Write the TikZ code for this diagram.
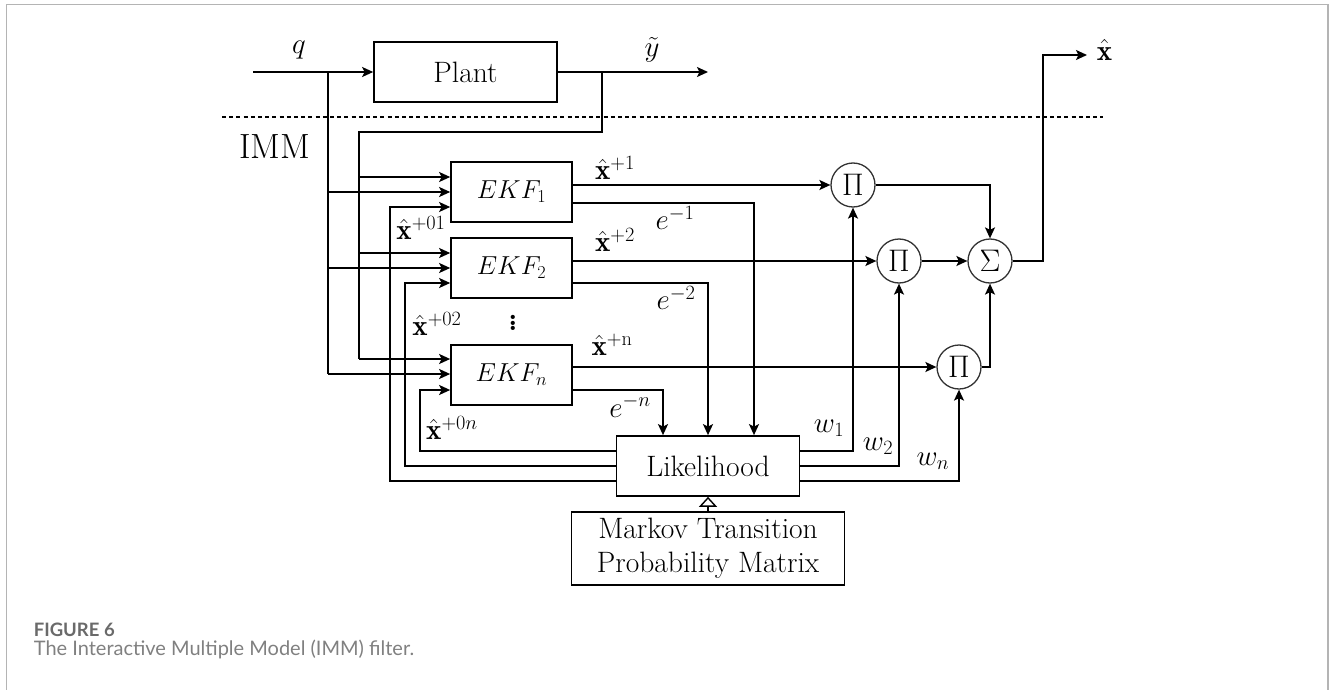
\RequirePackage{fix-cm}
\documentclass[tikz,border=0pt]{standalone}
\usepackage{fontspec}
\usetikzlibrary{arrows.meta,calc}
\newfontfamily\capfont{Lato}
\definecolor{capgray}{HTML}{6A6A6A}
\definecolor{capgray2}{HTML}{808080}
\definecolor{framegray}{HTML}{B4B4B4}
\newcommand{\bigop}[1]{\scalebox{1.3}{$#1$}}
\begin{document}
\begin{tikzpicture}[x=1pt,y=-1pt,
  line width=1.7pt,
  arr/.style={-{Stealth[length=11pt,width=10pt,inset=2.5pt]}},
  blk/.style={draw,line width=1.7pt,inner sep=0pt,font=\fontsize{29.5}{32}\selectfont},
  ekf/.style={blk,minimum width=121,minimum height=60,font=\fontsize{26}{30}\selectfont},
  opc/.style={draw,circle,line width=1.3pt,draw=black!80,minimum size=44,inner sep=0pt,font=\fontsize{24}{28}\selectfont},
  lab/.style={inner sep=0pt,font=\fontsize{29}{32}\selectfont},
  hollowarr/.style={-{Triangle[open,length=10pt,width=18pt]}}
]
\useasboundingbox (0,0) rectangle (1330,690);
\draw[framegray,line width=1.5pt] (6.5,690) -- (6.5,4.5) -- (1328,4.5) -- (1328,690);

% blocks
\node[blk,minimum width=183,minimum height=60] (plant) at (465.5,72) {Plant};
\node[ekf] (ekf1) at (511.5,192) {$EKF_1$};
\node[ekf] (ekf2) at (511.5,268) {$EKF_2$};
\node[ekf] (ekfn) at (511.5,375) {$EKF_n$};
\node[blk,minimum width=183,minimum height=60] (lik) at (708,466) {Likelihood};
\node[blk,minimum width=273,minimum height=73,align=center,font=\fontsize{29.5}{34}\selectfont] (markov) at (708,548.5) {Markov Transition\\Probability Matrix};
\node[opc] (p1) at (853,185) {\bigop{\Pi}};
\node[opc] (p2) at (899,261) {\bigop{\Pi}};
\node[opc] (sig) at (990,261) {\bigop{\Sigma}};
\node[opc] (p3) at (959,367) {\bigop{\Pi}};

% coordinates
\coordinate (qin) at (253,72);
\coordinate (yout) at (708,72);
\coordinate (xout) at (1087,55);

% dashed separator
\draw[line width=1.1pt,dash pattern=on 4pt off 3.2pt] (222,117) -- (1103,117);
\node[inner sep=0pt,font=\fontsize{35}{38}\selectfont] (imm) at (275,147) {IMM};

% plant in/out
\draw[arr] (qin) -- (plant.west);
\draw[arr] (plant.east) -- (yout);

% q distribution
\draw (328,72) -- (328,374);
\draw[arr] (328,192) -- (ekf1.west);
\draw[arr] (328,268) -- (ekf2.west);
\draw[arr] (328,374) -- ($(ekfn.west)+(0,-1)$);

% measurement distribution
\draw (602,72) -- (602,132) -- (359,132) -- (359,359);
\draw[arr] (359,177) -- ($(ekf1.west)+(0,-15)$);
\draw[arr] (359,253) -- ($(ekf2.west)+(0,-15)$);
\draw[arr] (359,359) -- ($(ekfn.west)+(0,-16)$);

% feedback from likelihood
\draw[arr] ($(lik.west)+(0,-15)$) -- (420,451) -- (420,390) -- ($(ekfn.west)+(0,15)$);
\draw[arr] (lik.west) -- (405,466) -- (405,283) -- ($(ekf2.west)+(0,15)$);
\draw[arr] ($(lik.west)+(0,15)$) -- (390,481) -- (390,207) -- ($(ekf1.west)+(0,15)$);

% EKF outputs
\draw[arr] ($(ekf1.east)+(0,-7)$) -- (p1.west);
\draw[arr] ($(ekf2.east)+(0,-7)$) -- (p2.west);
\draw[arr] ($(ekfn.east)+(0,-8)$) -- (p3.west);
\draw[arr] ($(ekf1.east)+(0,11)$) -| ($(lik.north)+(46,0)$);
\draw[arr] ($(ekf2.east)+(0,15)$) -| (lik.north);
\draw[arr] ($(ekfn.east)+(0,15)$) -| ($(lik.north)+(-45,0)$);

% weights
\draw[arr] ($(lik.east)+(0,-15)$) -| (p1.south);
\draw[arr] (lik.east) -| (p2.south);
\draw[arr] ($(lik.east)+(0,15)$) -| (p3.south);

% products to sum
\draw[arr] (p1.east) -| (sig.north);
\draw[arr] (p2.east) -- (sig.west);
\draw[arr] (p3.east) -| (sig.south);
\draw[arr] (sig.east) -- (1043,261) -- (1043,55) -- (xout);

% markov to likelihood
\draw[hollowarr,line width=1.4pt] (markov.north) -- (lik.south);

% labels
\node[lab] (lq) at (299,50) {$q$};
\node[lab] (ly) at (652,50) {$\tilde{y}$};
\node[lab,anchor=west] (lx) at (1096,50) {$\hat{\mathbf{x}}$};
\node[lab] (lx1) at (615,168) {$\hat{\mathbf{x}}^{+1}$};
\node[lab] (le1) at (675,218) {$e^{-1}$};
\node[lab] (lx01) at (421,228) {$\hat{\mathbf{x}}^{+01}$};
\node[lab] (lx2) at (615,240) {$\hat{\mathbf{x}}^{+2}$};
\node[lab] (le2) at (676,298) {$e^{-2}$};
\node[lab] (ldots) at (513,320) {\bfseries\vdots};
\node[lab] (lx02) at (437,324) {$\hat{\mathbf{x}}^{+02}$};
\node[lab] (lxn) at (612,345) {$\hat{\mathbf{x}}^{+\mathrm{n}}$};
\node[lab] (len) at (630,406) {$e^{-n}$};
\node[lab] (lx0n) at (452,428) {$\hat{\mathbf{x}}^{+0n}$};
\node[lab] (lw1) at (829,428) {$w_1$};
\node[lab] (lw2) at (878,446) {$w_2$};
\node[lab] (lwn) at (933,461) {$w_n$};

% caption
\node[anchor=west,inner sep=0pt,text=capgray,font=\capfont\bfseries\fontsize{18.5}{20}\selectfont] (cap1) at (33,630) {FIGURE 6};
\node[anchor=west,inner sep=0pt,text=capgray2,font=\capfont\fontsize{20}{22}\selectfont] (cap2) at (33,649) {The Interactive Multiple Model (IMM) filter.};
\end{tikzpicture}
\end{document}
